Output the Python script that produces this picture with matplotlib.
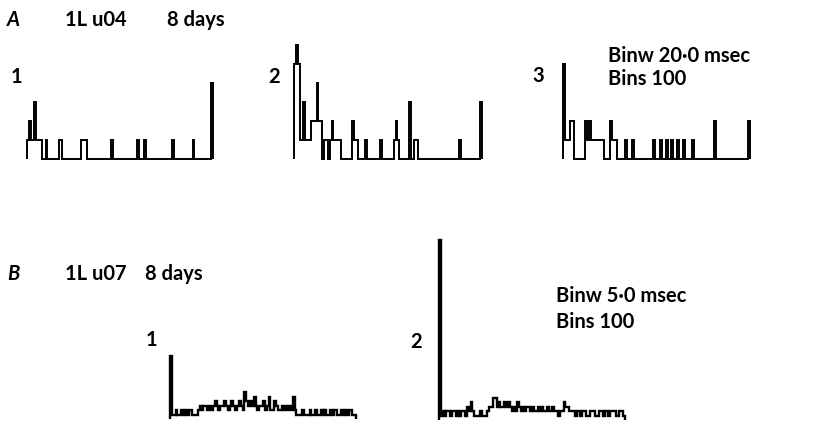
import numpy as np
import matplotlib.pyplot as plt

# A: sparse histograms (bin index -> count), Binw 20.0 msec, 100 bins
a1_bins = [0, 1, 2, 3, 4, 5, 6, 7, 10, 17, 18, 29, 30, 31, 45, 59, 63, 78, 89, 99]
a1_counts = [1, 2, 1, 1, 3, 1, 1, 1, 1, 1, 1, 1, 1, 1, 1, 1, 1, 1, 1, 4]

a2_bins = [0, 1, 2, 3, 4, 5, 6, 7, 8, 9, 10, 11, 12, 13, 14, 16, 17, 19, 20, 21, 22, 23, 24,
           31, 32, 33, 38, 46, 53, 54, 55, 61, 64, 65, 88, 99]
a2_counts = [5, 6, 5, 1, 1, 3, 1, 1, 1, 2, 2, 2, 4, 2, 2, 1, 1, 1, 2, 1, 1, 1, 1,
             2, 1, 1, 1, 1, 1, 2, 1, 3, 1, 1, 1, 3]

a3_bins = [0, 1, 2, 3, 4, 5, 12, 13, 14, 15, 16, 17, 18, 19, 20, 21, 25, 26, 27, 28,
           33, 37, 48, 52, 55, 58, 61, 64, 69, 81, 99]
a3_counts = [5, 1, 1, 1, 2, 2, 2, 1, 2, 1, 1, 1, 1, 1, 1, 1, 2, 1, 1, 1,
             1, 1, 1, 1, 1, 1, 1, 1, 1, 2, 2]

# B: full histograms, Binw 5.0 msec, 100 bins
b1_counts = [14,
             1, 1, 2, 1, 1, 2, 1,
             2, 1, 2, 2, 1, 1, 1,
             2, 3, 2, 3, 3, 2, 3, 2,
             3, 4, 3, 2, 3, 3, 4,
             3, 2, 3, 4, 3, 2, 3, 4, 3, 2,
             6, 4, 3,
             4, 3, 5, 3, 2, 3,
             3, 4, 2, 3, 5, 2, 2,
             4, 3, 2, 2,
             3, 2, 3, 2, 3, 2, 5,
             2, 1, 1, 1, 2, 1, 1, 1, 2, 1, 1, 2, 1, 1, 2, 1, 2, 1, 1, 2,
             1, 2, 2, 1, 1, 2, 1, 2, 1, 2, 2, 1, 1]

b2_counts = [40, 1, 2, 1, 2, 2, 1, 2, 2,
             1, 2, 1, 2, 2, 1, 3, 2, 4,
             2, 1, 1, 1, 2, 1, 1, 1, 2, 3,
             3, 5, 5, 3, 4, 3, 3, 4, 3, 4, 3, 2, 3, 2, 4, 3, 2, 3, 2,
             3, 3, 2, 3, 2, 2, 3, 2, 3, 2, 2, 3, 2, 2, 3, 2, 2, 1, 2, 2,
             4, 3, 3, 2,
             2, 2, 1, 2, 2, 1, 2, 2, 1, 1, 2, 2, 2, 1, 1, 2, 2, 1, 2, 2,
             1, 2, 2, 2, 1, 1, 2, 2, 1]

nbins = 100

W, H = 824, 425
fig = plt.figure(figsize=(W / 100, H / 100), dpi=100)
plt.rcParams['font.family'] = ['Lato', 'DejaVu Sans']


def sparse(bins, counts):
    c = np.zeros(nbins)
    c[bins] = counts
    return c


def panel(x0, x1, ybase, unit, ymax, counts, lw=1.4):
    ax = fig.add_axes([x0 / W, (H - ybase) / H, (x1 - x0) / W, unit * ymax / H])
    ax.stairs(counts, np.arange(len(counts) + 1), baseline=0,
              color='black', lw=lw, clip_on=False)
    ax.set_xlim(0, len(counts))
    ax.set_ylim(0, ymax)
    ax.axis('off')
    return ax


panel(27, 213, 159, 19, 6, sparse(a1_bins, a1_counts))
panel(294, 482, 159, 19, 6, sparse(a2_bins, a2_counts))
panel(563, 750, 159, 19, 6, sparse(a3_bins, a3_counts))
panel(170, 356, 419, 4.5, 40, np.array(b1_counts), lw=1.7)
panel(439, 625, 420, 4.5, 40, np.array(b2_counts), lw=1.7)


def txt(x, y, s, **kw):
    fig.text(x / W, 1 - y / H, s, va='baseline', ha='left', fontsize=14.5,
             fontweight='bold', **kw)


txt(7, 26, 'A', style='italic')
txt(65, 26, '1L u04')
txt(167, 26, '8 days')
txt(11, 83, '1')
txt(268, 83, '2')
txt(532, 82, '3')
txt(608, 62, 'Binw 20\u00b70 msec')
txt(608, 85, 'Bins 100')

txt(7, 280, 'B', style='italic')
txt(65, 280, '1L u07')
txt(145, 280, '8 days')
txt(556, 302, 'Binw 5\u00b70 msec')
txt(556, 328, 'Bins 100')
txt(146, 346, '1')
txt(410, 348, '2')

fig.savefig('out.png', dpi=100)
